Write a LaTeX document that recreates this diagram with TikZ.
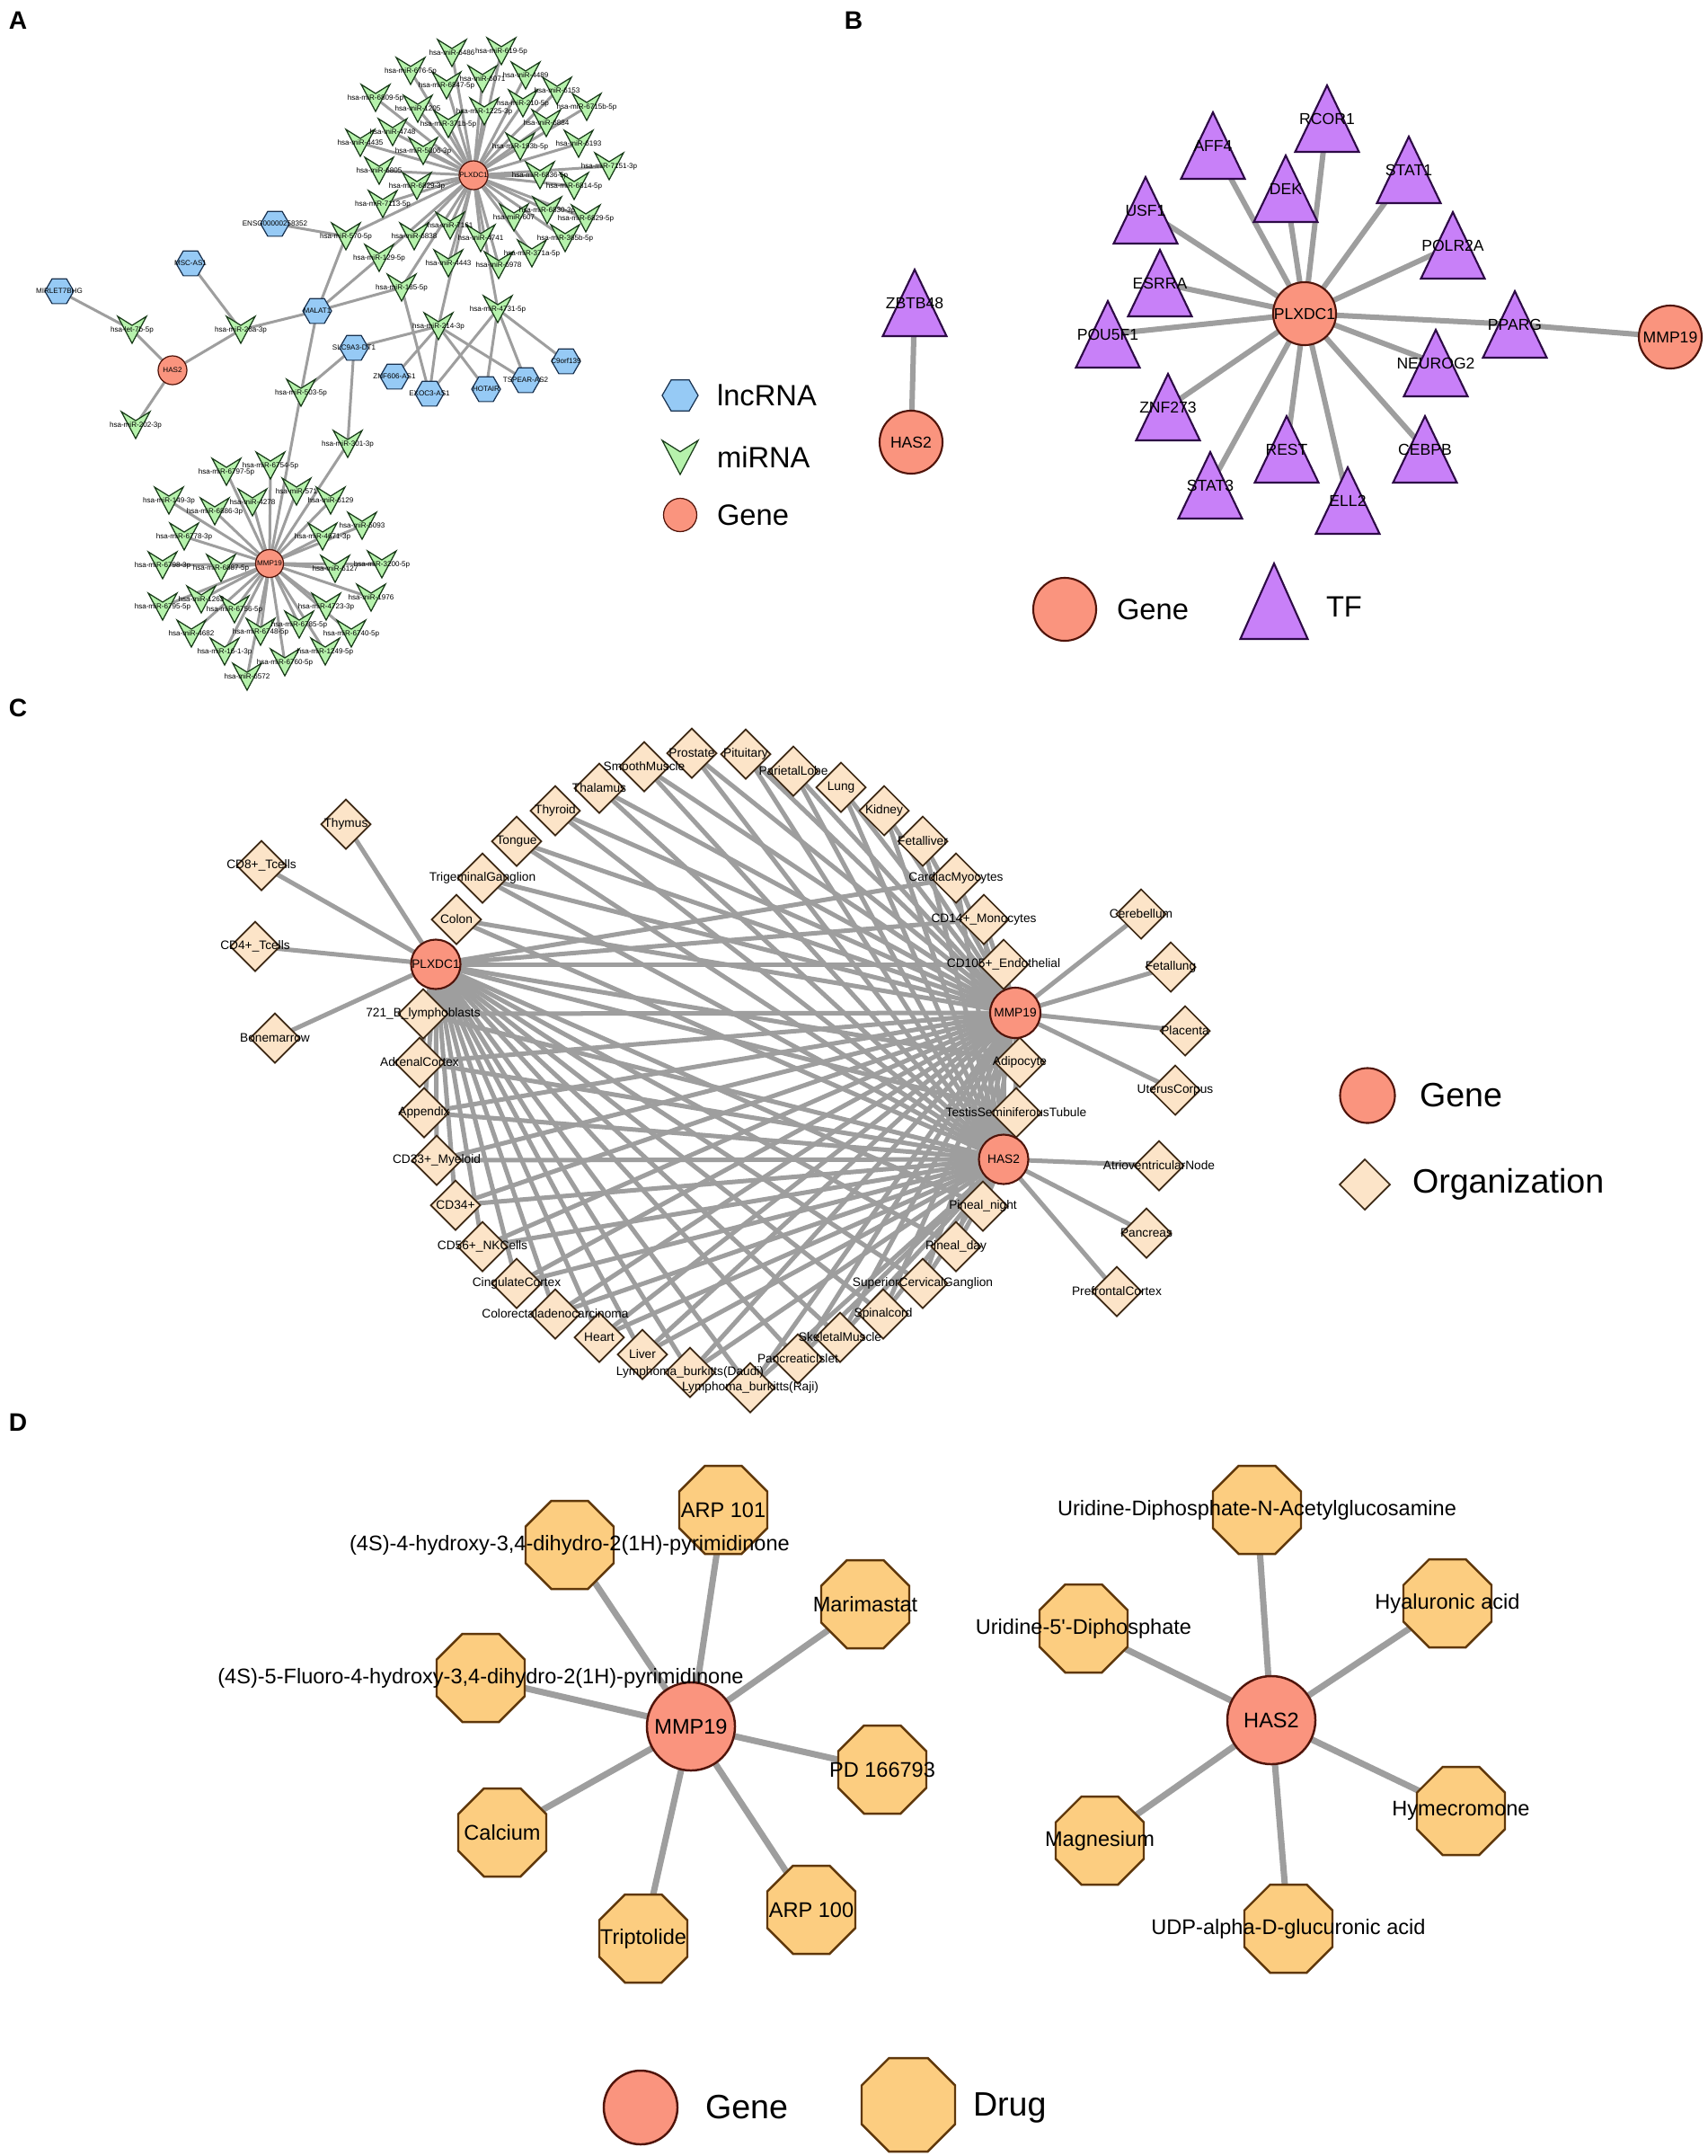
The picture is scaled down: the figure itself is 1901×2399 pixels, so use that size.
\documentclass[tikz,border=0pt]{standalone}
\usepackage{fontspec}
\setmainfont{Liberation Sans}
\pgfdeclarelayer{bg}
\pgfdeclarelayer{edges}
\pgfdeclarelayer{shapes}
\pgfsetlayers{bg,edges,shapes,main}

\definecolor{edgegray}{RGB}{158,158,158}
\definecolor{genefill}{RGB}{250,148,126}
\definecolor{genedraw}{RGB}{80,20,10}
\definecolor{vfill}{RGB}{182,242,172}
\definecolor{vdraw}{RGB}{25,60,25}
\definecolor{hexfill}{RGB}{150,202,245}
\definecolor{hexdraw}{RGB}{25,50,80}
\definecolor{tffill}{RGB}{200,128,248}
\definecolor{tfdraw}{RGB}{45,10,70}
\definecolor{orgfill}{RGB}{252,228,200}
\definecolor{orgdraw}{RGB}{60,40,20}
\definecolor{drugfill}{RGB}{252,205,128}
\definecolor{drugdraw}{RGB}{95,55,10}

\tikzset{
  lab/.style={inner sep=0pt, outer sep=0pt, text=black},
  fA/.style={lab, font=\fontsize{2.3}{2.8}\selectfont},
  fB/.style={lab, font=\fontsize{5}{6}\selectfont},
  fC/.style={lab, font=\fontsize{3.9}{4.7}\selectfont},
  fD/.style={lab, font=\fontsize{6.7}{8}\selectfont},
  fleg/.style={lab, anchor=west, font=\fontsize{9.3}{11}\selectfont},
  flegbig/.style={lab, anchor=west, font=\fontsize{10.7}{12}\selectfont},
  panel/.style={lab, font=\fontsize{8}{9}\selectfont\bfseries},
  edgeA/.style={draw=edgegray, line width=0.03cm},
  edgeB/.style={draw=edgegray, line width=0.06cm},
  edgeC/.style={draw=edgegray, line width=0.05cm},
  edgeD/.style={draw=edgegray, line width=0.07cm},
  vsty/.style={fill=vfill, draw=vdraw, line width=0.35pt},
  hexsty/.style={fill=hexfill, draw=hexdraw, line width=0.35pt},
  geneA/.style={fill=genefill, draw=genedraw, line width=0.35pt},
  geneB/.style={fill=genefill, draw=genedraw, line width=0.6pt},
  geneD/.style={fill=genefill, draw=genedraw, line width=0.7pt},
  tfsty/.style={fill=tffill, draw=tfdraw, line width=0.6pt},
  orgsty/.style={fill=orgfill, draw=orgdraw, line width=0.5pt},
  drugsty/.style={fill=drugfill, draw=drugdraw, line width=0.7pt},
}

\newcommand\shpV[3]{\begin{scope}[shift={(#1.center)}]\filldraw[vsty] (-#2,-#3) -- (0,{-#3/3}) -- (#2,-#3) -- (0,#3) -- cycle;\end{scope}}
\newcommand\shpHex[2]{\begin{scope}[shift={(#1.center)}]\filldraw[hexsty] (-#2,0) -- ({-#2/2},{-0.866*#2}) -- ({#2/2},{-0.866*#2}) -- (#2,0) -- ({#2/2},{0.866*#2}) -- ({-#2/2},{0.866*#2}) -- cycle;\end{scope}}
\newcommand\shpCirc[3]{\filldraw[#3] (#1.center) circle[radius=#2];}
\newcommand\shpTri[3]{\begin{scope}[shift={(#1.center)}]\filldraw[tfsty] (-#2,#3) -- (#2,#3) -- (0,-#3) -- cycle;\end{scope}}
\newcommand\shpDia[2]{\begin{scope}[shift={(#1.center)}]\filldraw[orgsty] (0,-#2) -- (#2,0) -- (0,#2) -- (-#2,0) -- cycle;\end{scope}}
\newcommand\shpOct[2]{\begin{scope}[shift={(#1.center)}]\filldraw[drugsty] ({-0.4142*#2},-#2) -- ({0.4142*#2},-#2) -- (#2,{-0.4142*#2}) -- (#2,{0.4142*#2}) -- ({0.4142*#2},#2) -- ({-0.4142*#2},#2) -- (-#2,{0.4142*#2}) -- (-#2,{-0.4142*#2}) -- cycle;\end{scope}}

\begin{document}
\begin{tikzpicture}[x=0.01cm, y=-0.01cm]
\useasboundingbox (0,0) rectangle (1901,2399);
\begin{pgfonlayer}{bg}
\fill[white] (0,0) rectangle (1901,2399);
\end{pgfonlayer}

% ---------------- panel letters
\node[panel] (pA) at (20,23) {A};
\node[panel] (pB) at (950,23) {B};
\node[panel] (pC) at (20,788) {C};
\node[panel] (pD) at (20,1583) {D};

% ================= PANEL A =================
\foreach \n/\x/\y/\t in {
am1/503/59/hsa-miR-6486, am2/558/57/hsa-miR-619-5p, am3/457/79/hsa-miR-676-5p,
am4/497/95/hsa-miR-6847-5p, am5/537/88/hsa-miR-6071, am6/585/84/hsa-miR-4489,
am7/620/101/hsa-miR-6153, am8/653/119/hsa-miR-6715b-5p, am9/418/109/hsa-miR-6809-5p,
am10/465/121/hsa-miR-1205, am11/582/115/hsa-miR-210-5p, am12/539/124/hsa-miR-1225-3p,
am13/499/138/hsa-miR-371b-5p, am14/608/137/hsa-miR-6884, am15/437/147/hsa-miR-4748,
am16/401/159/hsa-miR-4435, am17/471/168/hsa-miR-5006-3p, am18/579/163/hsa-miR-193b-5p,
am19/644/160/hsa-miR-6193, am20/678/185/hsa-miR-7151-3p, am21/422/190/hsa-miR-6805,
am22/601/195/hsa-miR-6836-5p, am23/639/207/hsa-miR-6814-5p, am24/464/207/hsa-miR-6829-3p,
am25/426/227/hsa-miR-7113-5p, am26/609/234/hsa-miR-6830-3p, am27/572/242/hsa-miR-607,
am28/652/243/hsa-miR-6829-5p, am29/385/263/hsa-miR-570-5p, am30/501/251/hsa-miR-7161,
am31/461/263/hsa-miR-6838, am32/535/265/hsa-miR-4741, am33/629/265/hsa-miR-365b-5p,
am34/422/287/hsa-miR-129-5p, am35/592/282/hsa-miR-371a-5p, am36/499/293/hsa-miR-4443,
am37/555/295/hsa-miR-6978, am38/447/320/hsa-miR-185-5p, am39/488/363/hsa-miR-214-3p,
am40/554/344/hsa-miR-4731-5p, am41/147/367/hsa-let-7b-5p, am42/268/367/hsa-miR-26a-3p,
am43/151/473/hsa-miR-202-3p, am44/335/437/hsa-miR-503-5p, am45/387/494/hsa-miR-301-3p}
  \node[fA] (\n) at (\x,\y) {\t};

\foreach \n/\x/\y/\t in {
an1/301/518/hsa-miR-6754-5p, an2/252/525/hsa-miR-6797-5p, an3/330/547/hsa-miR-571,
an4/188/557/hsa-miR-149-3p, an5/281/559/hsa-miR-4278, an6/368/557/hsa-miR-6129,
an7/239/569/hsa-miR-6886-3p, an8/403/585/hsa-miR-5093, an9/205/597/hsa-miR-6778-3p,
an10/359/597/hsa-miR-4671-3p, an11/181/629/hsa-miR-6798-3p, an12/246/632/hsa-miR-6887-5p,
an13/373/633/hsa-miR-6127, an14/425/628/hsa-miR-3200-5p, an15/413/665/hsa-miR-1976,
an16/224/667/hsa-miR-1263, an17/181/675/hsa-miR-6795-5p, an18/261/678/hsa-miR-6756-5p,
an19/363/675/hsa-miR-4723-3p, an20/333/695/hsa-miR-6785-5p, an21/213/705/hsa-miR-4682,
an22/290/703/hsa-miR-6748-5p, an23/391/705/hsa-miR-6740-5p, an24/250/725/hsa-miR-16-1-3p,
an25/362/725/hsa-miR-1249-5p, an26/317/737/hsa-miR-6760-5p, an27/275/753/hsa-miR-6572}
  \node[fA] (\n) at (\x,\y) {\t};

\foreach \n/\x/\y/\t in {
al1/306/249/ENSG00000258352, al2/212/293/MSC-AS1, al3/66/324/MIRLET7BHG,
al4/353/346/MALAT1, al5/394/387/SLC9A3-DT1, al6/439/419/ZNF606-AS1,
al7/478/438/EXOC3-AS1, al8/541/433/HOTAIR, al9/585/423/TSPEAR-AS2, al10/630/402/C9orf139}
  \node[fA] (\n) at (\x,\y) {\t};

\node[fA] (ag1) at (527,195) {PLXDC1};
\node[fA] (ag2) at (192,412) {HAS2};
\node[fA] (ag3) at (300,627) {MMP19};

% legend A
\node[lab] (aLh) at (757,440) {};
\node[lab] (aLv) at (757,509) {};
\node[lab] (aLg) at (757,573) {};
\node[fleg] (aLht) at (798,440) {lncRNA};
\node[fleg] (aLvt) at (798,509) {miRNA};
\node[fleg] (aLgt) at (798,573) {Gene};

% ================= PANEL B =================
\node[fB] (bP) at (1452,349) {PLXDC1};
\node[fB] (bH) at (1014,492) {HAS2};
\node[fB] (bM) at (1859,375) {MMP19};
\foreach \n/\x/\y/\t in {
bt1/1018/337/ZBTB48, bt2/1350/162/AFF4, bt3/1477/132/RCOR1, bt4/1431/210/DEK,
bt5/1568/189/STAT1, bt6/1275/234/USF1, bt7/1617/273/POLR2A, bt8/1291/315/ESRRA,
bt9/1233/372/POU5F1, bt10/1686/361/PPARG, bt11/1598/404/NEUROG2, bt12/1300/453/ZNF273,
bt13/1586/500/CEBPB, bt14/1432/500/REST, bt15/1347/540/STAT3, bt16/1500/557/ELL2}
  \node[fB] (\n) at (\x,\y) {\t};
\node[lab] (bLg) at (1185,678) {};
\node[lab] (bLt) at (1418,669) {};
\node[fleg] (bLgt) at (1243,678) {Gene};
\node[fleg] (bLtt) at (1476,675) {TF};

% ================= PANEL C =================
\node[fC] (cP) at (485,1073) {PLXDC1};
\node[fC] (cM) at (1130,1127) {MMP19};
\node[fC] (cH) at (1117,1290) {HAS2};
\foreach \n/\x/\y/\t in {
co1/385/917/Thymus, co2/291/963/CD8+\_Tcells, co3/284/1053/CD4+\_Tcells, co4/306/1155/Bonemarrow,
co5/1270/1017/Cerebellum, co6/1303/1076/Fetallung, co7/1319/1147/Placenta, co8/1308/1213/UterusCorpus,
co9/1290/1297/AtrioventricularNode, co10/1276/1372/Pancreas, co11/1243/1437/PrefrontalCortex,
ct1/508/1023/Colon, ct2/537/977/TrigeminalGanglion, ct3/575/936/Tongue, ct4/618/902/Thyroid,
ct5/667/877/Thalamus, ct6/717/853/SmoothMuscle, ct7/770/838/Prostate, ct8/830/839/Pituitary,
ct9/883/858/ParietalLobe, ct10/936/876/Lung, ct11/984/902/Kidney, ct12/1027/936/Fetalliver,
cr1/1064/977/CardiacMyocytes, cr2/1095/1023/CD14+\_Monocytes, cr3/1117/1073/CD105+\_Endothelial,
cr4/1135/1182/Adipocyte, cr5/1131/1238/TestisSeminiferousTubule, cr6/1094/1342/Pineal\_night,
cr7/1064/1387/Pineal\_day, cr8/1027/1428/SuperiorCervicalGanglion, cr9/983/1462/Spinalcord,
cr10/935/1488/SkeletalMuscle, cr11/888/1512/PancreaticIslet,
cl1/471/1128/721\_B\_lymphoblasts, cl2/467/1182/AdrenalCortex, cl3/472/1238/Appendix,
cl4/486/1291/CD33+\_Myeloid, cl5/507/1341/CD34+, cl6/537/1387/CD56+\_NKCells,
cl7/575/1428/CingulateCortex, cl8/618/1462/Colorectaladenocarcinoma, cl9/667/1488/Heart,
cl10/715/1507/Liver, cl11/768/1527/Lymphoma\_burkitts(Daudi), cl12/835/1544/Lymphoma\_burkitts(Raji)}
  \node[fC] (\n) at (\x,\y) {\t};
\node[lab] (cLg) at (1522,1219) {};
\node[lab] (cLd) at (1519,1318) {};
\node[flegbig] (cLgt) at (1580,1219) {Gene};
\node[flegbig] (cLdt) at (1572,1318) {Organization};

% ================= PANEL D =================
\node[fD] (dM) at (769,1921) {MMP19};
\node[fD] (dH) at (1415,1914) {HAS2};
\foreach \n/\x/\y/\t in {
dd1/805/1680/ARP 101, dd2/634/1719/{(4S)-4-hydroxy-3,4-dihydro-2(1H)-pyrimidinone},
dd3/963/1785/Marimastat, dd4/535/1867/{(4S)-5-Fluoro-4-hydroxy-3,4-dihydro-2(1H)-pyrimidinone},
dd5/982/1969/PD 166793, dd6/559/2039/Calcium, dd7/716/2157/Triptolide, dd8/903/2125/ARP 100,
dd9/1399/1680/Uridine-Diphosphate-N-Acetylglucosamine, dd10/1611/1784/Hyaluronic acid,
dd11/1206/1812/{Uridine-5\textquotesingle-Diphosphate}, dd12/1626/2015/Hymecromone,
dd13/1224/2048/Magnesium, dd14/1434/2146/UDP-alpha-D-glucuronic acid}
  \node[fD] (\n) at (\x,\y) {\t};
\node[lab] (dLg) at (713,2345) {};
\node[lab] (dLo) at (1011,2342) {};
\node[flegbig] (dLgt) at (785,2345) {Gene};
\node[flegbig] (dLot) at (1083,2345) {Drug};

% ================= EDGES =================
\begin{pgfonlayer}{edges}
% A
\foreach \i in {1,...,40} \draw[edgeA] (ag1.center) -- (am\i.center);
\foreach \i in {1,...,27} \draw[edgeA] (ag3.center) -- (an\i.center);
\foreach \a/\b in {am29/al1, am29/al4, am34/al4, am38/al4, am38/al7, al2/am42, al3/am41,
  am41/ag2, am42/ag2, am42/al4, ag2/am43, al4/am44, al5/am44, al5/am39, al5/am45,
  am39/al6, am39/al7, am39/al8, am39/al9, am40/al7, am40/al8, am40/al9, am40/al10,
  am44/ag3, am45/ag3}
  \draw[edgeA] (\a.center) -- (\b.center);
% B
\foreach \i in {2,...,16} \draw[edgeB] (bP.center) -- (bt\i.center);
\draw[edgeB] (bt1.center) -- (bH.center);
\draw[edgeB] (bt10.center) -- (bM.center);
% C
\foreach \i in {1,...,4} \draw[edgeC] (cP.center) -- (co\i.center);
\foreach \i in {5,...,8} \draw[edgeC] (cM.center) -- (co\i.center);
\foreach \i in {9,...,11} \draw[edgeC] (cH.center) -- (co\i.center);
\foreach \i in {1,...,12} {\draw[edgeC] (ct\i.center) -- (cM.center); \draw[edgeC] (ct\i.center) -- (cH.center);}
\foreach \i in {1,...,11} {\draw[edgeC] (cr\i.center) -- (cP.center); \draw[edgeC] (cr\i.center) -- (cM.center); \draw[edgeC] (cr\i.center) -- (cH.center);}
\foreach \i in {1,...,12} {\draw[edgeC] (cl\i.center) -- (cP.center); \draw[edgeC] (cl\i.center) -- (cM.center); \draw[edgeC] (cl\i.center) -- (cH.center);}
% D
\foreach \i in {1,...,8} \draw[edgeD] (dM.center) -- (dd\i.center);
\foreach \i in {9,...,14} \draw[edgeD] (dH.center) -- (dd\i.center);
\end{pgfonlayer}

% ================= SHAPES =================
\begin{pgfonlayer}{shapes}
% A
\foreach \i in {1,...,45} \shpV{am\i}{16}{15};
\foreach \i in {1,...,27} \shpV{an\i}{16}{15};
\foreach \i in {1,...,10} \shpHex{al\i}{16};
\shpCirc{ag1}{0.16cm}{geneA}
\shpCirc{ag2}{0.16cm}{geneA}
\shpCirc{ag3}{0.155cm}{geneA}
\shpHex{aLh}{20}
\shpV{aLv}{20}{19}
\shpCirc{aLg}{0.185cm}{geneA}
% B
\foreach \i in {1,...,16} \shpTri{bt\i}{35.5}{37};
\shpCirc{bP}{0.35cm}{geneB}
\shpCirc{bH}{0.35cm}{geneB}
\shpCirc{bM}{0.35cm}{geneB}
\shpCirc{bLg}{0.35cm}{geneB}
\shpTri{bLt}{37.5}{42}
% C
\foreach \i in {1,...,11} \shpDia{co\i}{27.5};
\foreach \i in {1,...,12} \shpDia{ct\i}{27.5};
\foreach \i in {1,...,11} \shpDia{cr\i}{27.5};
\foreach \i in {1,...,12} \shpDia{cl\i}{27.5};
\shpCirc{cP}{0.275cm}{geneB}
\shpCirc{cM}{0.28cm}{geneB}
\shpCirc{cH}{0.275cm}{geneB}
\shpCirc{cLg}{0.305cm}{geneB}
\shpDia{cLd}{28}
% D
\foreach \i in {1,...,14} \shpOct{dd\i}{49};
\shpCirc{dM}{0.49cm}{geneD}
\shpCirc{dH}{0.49cm}{geneD}
\shpCirc{dLg}{0.41cm}{geneD}
\shpOct{dLo}{52}
\end{pgfonlayer}
\end{tikzpicture}
\end{document}
